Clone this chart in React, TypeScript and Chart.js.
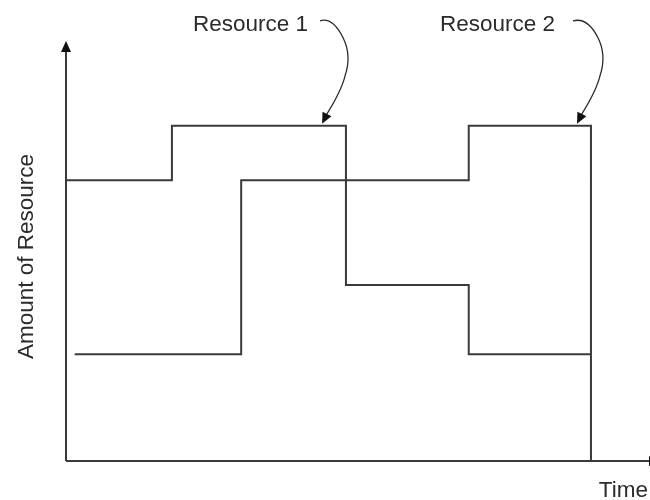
import React, { useEffect, useRef } from "react";
import { Chart, registerables } from "chart.js";

Chart.register(...registerables);

// Step series (x in time units, y in resource units); stepped lines change level at each x
const resource1X = [0, 1.82, 4.81, 6.92, 9.02];
const resource1Y = [6.7, 8.0, 4.2, 2.55, 2.55];
const resource2X = [0.15, 3.01, 6.92, 9.02];
const resource2Y = [2.55, 6.7, 8.0, 0];

const seriesLabels = ["Resource 1", "Resource 2"];
const xAxisTitle = "Time";
const yAxisTitle = "Amount of Resource";
// points (data units) that each label's curly arrow points at
const labelTargetX = [4.4, 8.78];
const labelTargetY = [8.0, 8.0];

const FONT = '22.5px "Liberation Sans", Arial, sans-serif';
const INK = "#2b2b2b";
const LINE = "#3a3a3a";

const decorPlugin = {
  id: "decor",
  afterDraw(chart: any) {
    const { ctx, chartArea } = chart;
    const { left, right, top, bottom } = chartArea;
    const xs = chart.scales.x;
    const ys = chart.scales.y;
    ctx.save();

    // axes
    ctx.strokeStyle = LINE;
    ctx.fillStyle = "#111";
    ctx.lineWidth = 2;
    ctx.beginPath();
    ctx.moveTo(left, bottom);
    ctx.lineTo(left, top + 6);
    ctx.moveTo(left, bottom);
    ctx.lineTo(right + 4, bottom);
    ctx.stroke();
    // y arrowhead
    ctx.beginPath();
    ctx.moveTo(left, top - 1);
    ctx.lineTo(left - 5, top + 10);
    ctx.lineTo(left + 5, top + 10);
    ctx.closePath();
    ctx.fill();
    // x arrowhead (mostly off-canvas)
    ctx.beginPath();
    ctx.moveTo(right + 12, bottom);
    ctx.lineTo(right + 1, bottom - 5);
    ctx.lineTo(right + 1, bottom + 5);
    ctx.closePath();
    ctx.fill();

    // titles
    ctx.fillStyle = INK;
    ctx.font = FONT;
    ctx.textBaseline = "alphabetic";
    ctx.textAlign = "right";
    ctx.fillText(xAxisTitle, right, bottom + 36);
    ctx.save();
    ctx.translate(left - 33, (top + bottom) / 2 + 5);
    ctx.rotate(-Math.PI / 2);
    ctx.textAlign = "center";
    ctx.fillText(yAxisTitle, 0, 0);
    ctx.restore();

    // labels with curly arrows
    const textGap = [14, 22];
    const startDx = [-2, -4];
    seriesLabels.forEach((lab, i) => {
      const tx = xs.getPixelForValue(labelTargetX[i]);
      const ty = ys.getPixelForValue(labelTargetY[i]) - 2;
      ctx.fillStyle = INK;
      ctx.textAlign = "right";
      ctx.fillText(lab, tx - textGap[i], ty - 93);

      ctx.strokeStyle = INK;
      ctx.lineWidth = 1.3;
      ctx.beginPath();
      ctx.moveTo(tx + startDx[i], ty - 103);
      ctx.bezierCurveTo(tx + 8, ty - 106, tx + 16, ty - 96, tx + 21, ty - 86);
      ctx.bezierCurveTo(tx + 27, ty - 74, tx + 27, ty - 60, tx + 23, ty - 48);
      ctx.bezierCurveTo(tx + 19, ty - 32, tx + 10, ty - 18, tx + 3, ty - 7);
      ctx.stroke();
      // arrowhead
      const ang = Math.atan2(7, -3.5);
      const L = 11;
      const W = 5;
      const bx = tx - Math.cos(ang) * L;
      const by = ty - Math.sin(ang) * L;
      const px = -Math.sin(ang);
      const py = Math.cos(ang);
      ctx.fillStyle = "#111";
      ctx.beginPath();
      ctx.moveTo(tx, ty);
      ctx.lineTo(bx + px * W, by + py * W);
      ctx.lineTo(bx - px * W, by - py * W);
      ctx.closePath();
      ctx.fill();
    });
    ctx.restore();
  },
};

export default function App() {
  const ref = useRef<HTMLCanvasElement | null>(null);
  useEffect(() => {
    if (!ref.current) return;
    const chart = new Chart(ref.current, {
      type: "line",
      data: {
        datasets: [
          {
            label: seriesLabels[0],
            data: resource1X.map((x, i) => ({ x, y: resource1Y[i] })),
            stepped: true,
            borderColor: LINE,
            borderWidth: 2,
            pointRadius: 0,
            fill: false,
            clip: false as any,
          },
          {
            label: seriesLabels[1],
            data: resource2X.map((x, i) => ({ x, y: resource2Y[i] })),
            stepped: true,
            borderColor: LINE,
            borderWidth: 2,
            pointRadius: 0,
            fill: false,
            clip: false as any,
          },
        ],
      },
      options: {
        animation: false,
        responsive: false,
        layout: { padding: { left: 66, top: 42, right: 2, bottom: 39 } },
        plugins: { legend: { display: false }, tooltip: { enabled: false } },
        scales: {
          x: { type: "linear", min: 0, max: 10, display: false },
          y: { type: "linear", min: 0, max: 10, display: false },
        },
      },
      plugins: [decorPlugin],
    });
    return () => chart.destroy();
  }, []);
  return (
    <div style={{ position: "fixed", left: 0, top: 0, width: 650, height: 500, background: "#fff" }}>
      <canvas ref={ref} width={650} height={500} style={{ display: "block" }} />
    </div>
  );
}
